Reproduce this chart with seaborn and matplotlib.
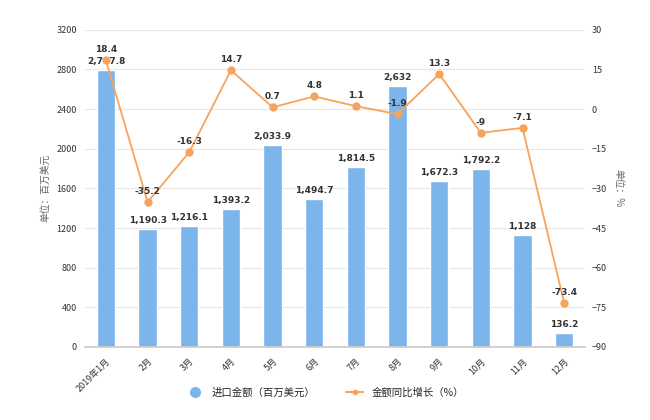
import numpy as np
import pandas as pd
import matplotlib
matplotlib.use('Agg')
import matplotlib.pyplot as plt
from matplotlib.lines import Line2D
import seaborn as sns

# Data
months = ['2019年1月', '2月', '3月', '4月', '5月', '6月',
          '7月', '8月', '9月', '10月', '11月', '12月']
import_value = [2797.8, 1190.3, 1216.1, 1393.2, 2033.9, 1494.7,
                1814.5, 2632, 1672.3, 1792.2, 1128, 136.2]
yoy_growth = [18.4, -35.2, -16.3, 14.7, 0.7, 4.8,
              1.1, -1.9, 13.3, -9, -7.1, -73.4]

sns.set_theme(style='white')
plt.rcParams['font.family'] = ['Noto Sans CJK SC', 'DejaVu Sans']

bar_color = '#7cb5ec'
line_color = '#f7a35c'
tick_color = '#666666'

df = pd.DataFrame({'month': months, 'value': import_value, 'yoy': yoy_growth})


def fmt(v):
    if float(v).is_integer():
        return f'{int(v):,}'
    return f'{v:,.1f}'


fig = plt.figure(figsize=(6.5, 4.2), dpi=100)
ax = fig.add_axes([0.131, 0.174, 0.769, 0.755])

sns.barplot(data=df, x='month', y='value', color=bar_color, width=0.44,
            saturation=1, ax=ax, zorder=2)
ax.set_ylim(0, 3200)
ax.set_yticks(np.arange(0, 3201, 400))
ax.set_xlim(-0.5, len(months) - 0.5)
ax.grid(axis='y', color='#e6e6e6', linewidth=0.8, zorder=0)
ax.set_axisbelow(True)
ax.set_xlabel('')
ax.set_ylabel('单位：百万美元', fontsize=7, color=tick_color, labelpad=4)
ax.tick_params(axis='y', labelsize=6.5, colors='#333333', length=0, pad=6)
ax.tick_params(axis='x', labelsize=6.5, colors='#333333', length=3, pad=4)
plt.setp(ax.get_xticklabels(), rotation=45, ha='right', rotation_mode='anchor')
for s in ['top', 'right', 'left']:
    ax.spines[s].set_visible(False)
ax.spines['bottom'].set_color('#cccccc')

# value labels in a wider font, like the reference
for i, v in enumerate(import_value):
    ax.text(i, v + 40, fmt(v), ha='center', va='bottom', fontsize=6.5,
            fontweight='bold', color='#333333', zorder=5, family='DejaVu Sans')

ax2 = ax.twinx()
sns.lineplot(x=np.arange(len(months)), y=yoy_growth, color=line_color,
             marker='o', markersize=6, markeredgewidth=0, linewidth=1.3, ax=ax2, zorder=4)
ax2.set_ylim(-90, 30)
ax2.set_yticks(np.arange(-90, 31, 15))
ax2.set_ylabel('单位：%', fontsize=7, color=tick_color, rotation=270, labelpad=12)
ax2.tick_params(axis='y', labelsize=6.5, colors='#333333', length=0, pad=5)
for s in ['top', 'right', 'left', 'bottom']:
    ax2.spines[s].set_visible(False)
ax2.grid(False)

for i, v in enumerate(yoy_growth):
    ax2.text(i, v + 2.4, fmt(v), ha='center', va='bottom', fontsize=6.5,
             fontweight='bold', color='#333333', zorder=6, family='DejaVu Sans')

handles = [
    Line2D([0], [0], marker='o', color='none', markerfacecolor=bar_color,
           markeredgewidth=0, markersize=8),
    Line2D([0], [0], marker='o', color=line_color, markerfacecolor=line_color,
           markeredgewidth=0, markersize=4, linewidth=1.5),
]
fig.legend(handles, ['进口金额（百万美元）', '金额同比增长（%）'],
           loc='center', bbox_to_anchor=(0.5, 0.065), ncol=2, frameon=False,
           fontsize=7.5, handlelength=1.6, columnspacing=3)

fig.savefig('out.png', dpi=100)
